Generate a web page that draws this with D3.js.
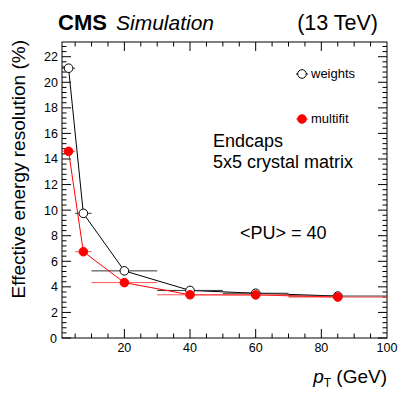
<!DOCTYPE html>
<html>
<head>
<meta charset="utf-8">
<script src="https://cdnjs.cloudflare.com/ajax/libs/d3/7.8.5/d3.min.js"></script>
<style>
  body { margin: 0; background: #fff; }
  text { font-family: "Liberation Sans", Arial, Helvetica, sans-serif; }
</style>
</head>
<body>
<div id="chart"></div>
<script>
// bin centres and edges in pT (GeV)
var ptCenter = [3, 7.5, 20, 40, 60, 85];
var ptLow    = [1, 5, 10, 30, 50, 70];
var ptHigh   = [5, 10, 30, 50, 70, 100];
var weightsRes  = [21.1, 9.75, 5.25, 3.72, 3.5, 3.28];
var multifitRes = [14.6, 6.75, 4.33, 3.38, 3.37, 3.2];
var xTicks = [20, 40, 60, 80, 100];
var yTicks = [0, 2, 4, 6, 8, 10, 12, 14, 16, 18, 20, 22];

var W = 407, H = 399;
var L = 62, R = 387, T = 42, B = 338;

var svg = d3.select("#chart").append("svg")
  .attr("width", W).attr("height", H);

var x = d3.scaleLinear().domain([1, 100]).range([L, R]);
var y = d3.scaleLinear().domain([0, 23.15]).range([B, T]);

// frame
svg.append("rect")
  .attr("x", L).attr("y", T).attr("width", R - L).attr("height", B - T)
  .attr("fill", "none").attr("stroke", "#000").attr("stroke-width", 1);

// ticks (major + minor on all four sides)
var xMinor = d3.range(5, 100, 5);
var yMinor = d3.range(0, 23.1, 0.4);
var tk = svg.append("g").attr("stroke", "#000").attr("stroke-width", 1);
xMinor.forEach(function(v) {
  var len = (v % 20 === 0) ? 9 : 4.5;
  tk.append("line").attr("x1", x(v)).attr("x2", x(v)).attr("y1", B).attr("y2", B - len);
  tk.append("line").attr("x1", x(v)).attr("x2", x(v)).attr("y1", T).attr("y2", T + len);
});
yMinor.forEach(function(v, i) {
  var len = (i % 5 === 0) ? 9 : 4.5;
  tk.append("line").attr("x1", L).attr("x2", L + len).attr("y1", y(v)).attr("y2", y(v));
  tk.append("line").attr("x1", R).attr("x2", R - len).attr("y1", y(v)).attr("y2", y(v));
});

// tick labels
svg.selectAll(".xl").data(xTicks).enter().append("text")
  .attr("x", function(d) { return x(d); }).attr("y", 352)
  .attr("text-anchor", "middle").attr("font-size", 12.5)
  .text(function(d) { return d; });
svg.append("text").attr("x", 57).attr("y", 343)
  .attr("text-anchor", "end").attr("font-size", 12.5).text("0");
svg.selectAll(".yl").data(yTicks.slice(1)).enter().append("text")
  .attr("x", 58).attr("y", function(d) { return y(d) + 4.5; })
  .attr("text-anchor", "end").attr("font-size", 12.5)
  .text(function(d) { return d; });

// axis titles
svg.append("text")
  .attr("transform", "translate(25,40) rotate(-90)")
  .attr("text-anchor", "end").attr("font-size", 19)
  .text("Effective energy resolution (%)");
var xt = svg.append("text").attr("x", 387).attr("y", 383)
  .attr("text-anchor", "end").attr("font-size", 19);
xt.append("tspan").attr("font-style", "italic").text("p");
xt.append("tspan").attr("font-size", 12).attr("dy", 4).text("T");
xt.append("tspan").attr("dy", -4).text(" (GeV)");

// header
svg.append("text").attr("x", 58).attr("y", 30).attr("font-size", 22)
  .attr("font-weight", "bold").text("CMS");
svg.append("text").attr("x", 116).attr("y", 30).attr("font-size", 21)
  .attr("font-style", "italic").text("Simulation");
svg.append("text").attr("x", 378).attr("y", 30).attr("text-anchor", "end")
  .attr("font-size", 21.5).text("(13 TeV)");

// annotations
svg.append("text").attr("x", 213).attr("y", 147).attr("font-size", 18).text("Endcaps");
svg.append("text").attr("x", 213).attr("y", 168).attr("font-size", 18).text("5x5 crystal matrix");
svg.append("text").attr("x", 240).attr("y", 239).attr("font-size", 18).text("<PU> = 40");

// series
function drawSeries(vals, color, filled, barColor) {
  var g = svg.append("g");
  var pts = ptCenter.map(function(c, i) { return [c, vals[i]]; });
  g.append("path").datum(pts)
    .attr("d", d3.line().x(function(d) { return x(d[0]); }).y(function(d) { return y(d[1]); }))
    .attr("fill", "none").attr("stroke", color).attr("stroke-width", 1);
  g.selectAll(".eb").data(vals).enter().append("line")
    .attr("x1", function(d, i) { return x(ptLow[i]); })
    .attr("x2", function(d, i) { return x(ptHigh[i]); })
    .attr("y1", function(d) { return y(d); })
    .attr("y2", function(d) { return y(d); })
    .attr("stroke", barColor).attr("stroke-width", 1);
  g.selectAll("circle").data(vals).enter().append("circle")
    .attr("cx", function(d, i) { return x(ptCenter[i]); })
    .attr("cy", function(d) { return y(d); })
    .attr("r", 4.3)
    .attr("fill", filled ? color : "#fff")
    .attr("stroke", color).attr("stroke-width", 1);
}
drawSeries(weightsRes, "#000", false, "#333");
drawSeries(multifitRes, "#ff0000", true, "#ff5050");

// legend
var lg = svg.append("g");
lg.append("line").attr("x1", 296).attr("x2", 308).attr("y1", 74).attr("y2", 74).attr("stroke", "#000");
lg.append("circle").attr("cx", 302).attr("cy", 74).attr("r", 4.3).attr("fill", "#fff").attr("stroke", "#000");
lg.append("text").attr("x", 311).attr("y", 78).attr("font-size", 13).text("weights");
lg.append("line").attr("x1", 296).attr("x2", 308).attr("y1", 119).attr("y2", 119).attr("stroke", "#ff5050");
lg.append("circle").attr("cx", 302).attr("cy", 119).attr("r", 4.3).attr("fill", "#ff0000").attr("stroke", "#ff0000");
lg.append("text").attr("x", 311).attr("y", 123).attr("font-size", 13).text("multifit");
</script>
</body>
</html>
